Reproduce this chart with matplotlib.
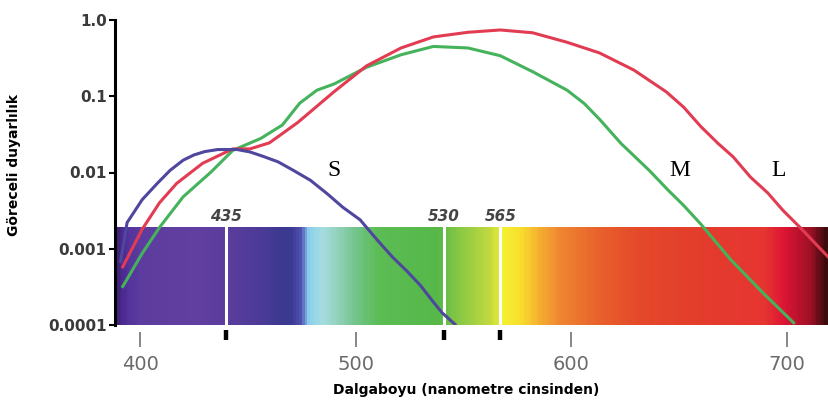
import matplotlib
matplotlib.use("Agg")
import matplotlib.pyplot as plt
import matplotlib.transforms as mtransforms
from matplotlib.colors import LinearSegmentedColormap
import numpy as np

# cone sensitivity curves (wavelength nm, relative sensitivity)
s_nm = [391, 394, 401, 408, 414, 420, 425, 430, 436, 445, 451, 457, 464, 471, 479,
        487, 494, 502, 510, 517, 524, 530, 536, 540, 546]
s_val = [0.00068, 0.0022, 0.0044, 0.0072, 0.0107, 0.0145, 0.017, 0.0188, 0.020, 0.020,
         0.0186, 0.0163, 0.0138, 0.0107, 0.0079, 0.0052, 0.0035, 0.0024, 0.0013,
         0.00078, 0.00050, 0.00033, 0.00020, 0.000145, 0.000102]

m_nm = [392, 401, 409, 420, 433, 443, 456, 466, 474, 482, 490, 505, 521, 536, 552,
        567, 582, 598, 606, 613, 623, 636, 645, 652, 660, 674, 689, 703]
m_val = [0.00032, 0.00087, 0.0019, 0.0048, 0.0102, 0.0195, 0.028, 0.042, 0.081, 0.12,
         0.145, 0.24, 0.35, 0.45, 0.43, 0.34, 0.21, 0.12, 0.08, 0.05, 0.024, 0.0107,
         0.0058, 0.0037, 0.0021, 0.00071, 0.00026, 0.000107]

l_nm = [392, 401, 409, 417, 429, 443, 451, 460, 473, 490, 505, 521, 536, 552, 567,
        582, 598, 613, 629, 644, 652, 660, 668, 675, 683, 691, 698, 706, 719]
l_val = [0.00058, 0.0018, 0.0040, 0.0072, 0.0132, 0.0204, 0.0204, 0.0245, 0.045, 0.115,
         0.25, 0.43, 0.60, 0.69, 0.74, 0.68, 0.51, 0.37, 0.22, 0.114, 0.072, 0.040,
         0.024, 0.016, 0.0087, 0.0054, 0.0032, 0.0019, 0.00078]

# peak markers: label text and where the line is drawn
peak_labels = ["435", "530", "565"]
peak_x = [440, 541, 567]

yticks = [1.0, 0.1, 0.01, 0.001, 0.0001]
ytick_labels = ["1.0", "0.1", "0.01", "0.001", "0.0001"]
xticks = [400, 500, 600, 700]

# colours of the spectrum strip
spec_stops = [
    (388, "#3c1f70"), (393, "#52309a"), (400, "#5c3c9e"), (425, "#613fa0"),
    (440, "#5a3d9c"), (455, "#4c3a98"), (465, "#3d3990"), (470, "#3a3a92"),
    (474, "#5050b0"), (478, "#8ad0ee"), (484, "#a6dce0"), (492, "#90d0b8"),
    (500, "#72c48a"), (510, "#5cbc55"), (538, "#55b848"), (548, "#88c844"),
    (562, "#c0d840"), (569, "#f4f030"), (576, "#f8e02c"), (585, "#f5b030"),
    (595, "#ef8530"), (613, "#e8602c"), (632, "#e4482a"), (660, "#e33c2c"),
    (690, "#e63530"), (699, "#dc1535"), (711, "#a01025"), (720, "#2a0a0a"),
]

x0, x1 = 388.4, 719.4
y0, y1 = 1e-4, 1.0
band_top = 0.0019

fig = plt.figure(figsize=(8.29, 4.04), dpi=100)
ax = fig.add_axes([115 / 829, 1 - 325 / 404, 1 - 115 / 829, 305 / 404])
ax.set_yscale("log")
ax.set_xlim(x0, x1)
ax.set_ylim(y0, y1)

# spectrum strip
lo, hi = spec_stops[0][0], spec_stops[-1][0]
cmap = LinearSegmentedColormap.from_list(
    "spec", [((w - lo) / (hi - lo), c) for w, c in spec_stops])
xe = np.linspace(x0, x1, 600)
xc = (xe[:-1] + xe[1:]) / 2
ax.pcolormesh(xe, [y0, band_top], ((xc - lo) / (hi - lo))[None, :],
              cmap=cmap, vmin=0, vmax=1, shading="flat", zorder=1)

# peak lines in the strip and marks under it
trans = mtransforms.blended_transform_factory(ax.transData, ax.transAxes)
for lab, px in zip(peak_labels, peak_x):
    ax.plot([px, px], [y0, band_top], color="white", lw=2.2, zorder=2)
    ax.plot([px, px], [-0.016, -0.05], color="black", lw=3.2, transform=trans,
            clip_on=False, solid_capstyle="butt")
    ax.text(px, 0.0021, lab, ha="center", va="bottom", fontsize=11,
            fontweight="bold", fontstyle="italic", color="#444444")

ax.plot(s_nm, s_val, color="#4f479e", lw=2.2, zorder=4, solid_joinstyle="round")
ax.plot(m_nm, m_val, color="#45b25c", lw=2.2, zorder=3, solid_joinstyle="round")
ax.plot(l_nm, l_val, color="#e23c52", lw=2.2, zorder=3, solid_joinstyle="round")

ax.text(490, 0.0105, "S", family="Liberation Serif", fontsize=17, ha="center", va="center")
ax.text(650, 0.0105, "M", family="Liberation Serif", fontsize=17, ha="center", va="center")
ax.text(696, 0.0105, "L", family="Liberation Serif", fontsize=17, ha="center", va="center")

# axes styling
for side in ["top", "right"]:
    ax.spines[side].set_visible(False)
ax.spines["bottom"].set_position(("outward", 5))
ax.spines["bottom"].set_visible(False)
ax.spines["left"].set_linewidth(2.2)
ax.spines["left"].set_color("black")

ax.set_yticks(yticks)
ax.set_yticklabels(ytick_labels)
ax.minorticks_off()
ax.tick_params(axis="y", length=4, width=1.5, pad=2, labelsize=11, labelcolor="#3a3a3a")
for t in ax.get_yticklabels():
    t.set_fontweight("bold")

ax.set_xticks(xticks)
ax.tick_params(axis="x", length=10.5, width=1.1, color="#666666", pad=6,
               labelsize=14, labelcolor="#6a6a6a")

fig.text(14 / 829, 1 - 165 / 404, "Göreceli duyarlılık", rotation=90,
         ha="center", va="center", fontsize=10, fontweight="bold")
fig.text(466 / 829, 1 - 390 / 404, "Dalgaboyu (nanometre cinsinden)",
         ha="center", va="center", fontsize=10, fontweight="bold")

fig.savefig("out.png", dpi=100)
